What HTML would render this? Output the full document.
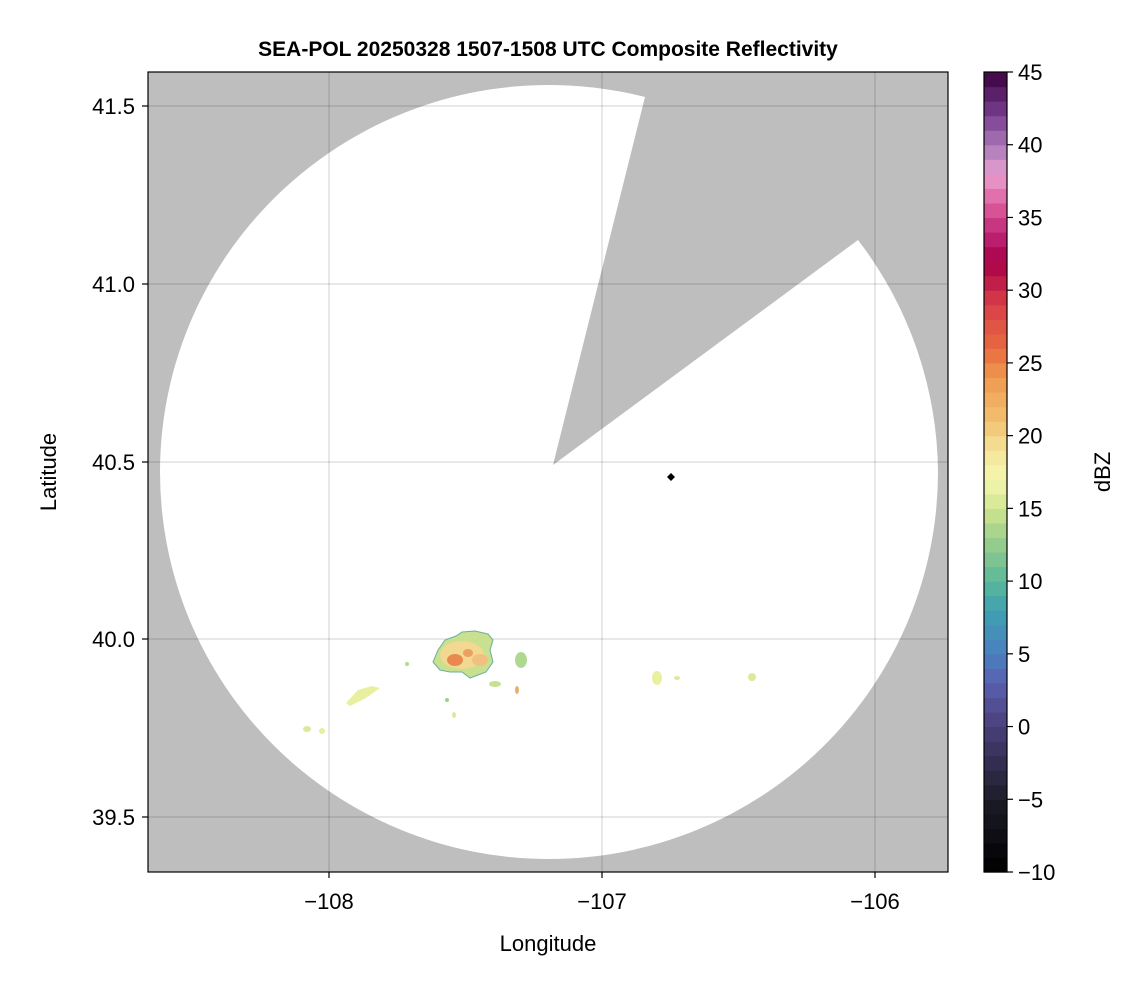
<!DOCTYPE html>
<html><head><meta charset="utf-8"><style>
body{margin:0;background:#fff;}
svg{display:block;font-family:"Liberation Sans",sans-serif;}
</style></head><body>
<svg id="s" width="1146" height="990" viewBox="0 0 1146 990" xmlns="http://www.w3.org/2000/svg">
<defs><clipPath id="pc"><rect x="148" y="72" width="800" height="800"/></clipPath></defs>
<rect x="148" y="72" width="800" height="800" fill="#bebebe"/>
<g clip-path="url(#pc)">
<path d="M553,465 L645,97 A389,387 0 0 0 160,472 A389,387 0 0 0 938,472 A389,387 0 0 0 858,240 Z" fill="#fff"/>
<g stroke="#000" stroke-opacity="0.12" stroke-width="1.5">
<line x1="329" y1="72" x2="329" y2="872"/><line x1="602" y1="72" x2="602" y2="872"/><line x1="875" y1="72" x2="875" y2="872"/>
<line x1="148" y1="106" x2="948" y2="106"/><line x1="148" y1="284" x2="948" y2="284"/><line x1="148" y1="462" x2="948" y2="462"/><line x1="148" y1="639" x2="948" y2="639"/><line x1="148" y1="817" x2="948" y2="817"/>
</g>
<g>
<path d="M438,650 L445,640 L456,636 L462,632 L475,631 L488,634 L493,640 L490,650 L493,662 L486,672 L470,678 L462,672 L450,672 L440,670 L433,662 Z" fill="#c8e090" stroke="#6ab09a" stroke-width="1"/>
<ellipse cx="462" cy="655" rx="22" ry="14" fill="#f2d890"/>
<ellipse cx="455" cy="660" rx="8" ry="6" fill="#e88a50"/>
<ellipse cx="468" cy="653" rx="5" ry="4" fill="#eaa060"/>
<ellipse cx="480" cy="660" rx="8" ry="6" fill="#f0c080"/>
<ellipse cx="521" cy="660" rx="6" ry="8" fill="#b0d890"/>
<ellipse cx="495" cy="684" rx="6" ry="3" fill="#c8e090"/>
<path d="M346,703 L358,690 L372,686 L380,688 L366,698 L350,706 Z" fill="#e8f0a0"/>
<ellipse cx="307" cy="729" rx="4" ry="3" fill="#dfe898"/>
<ellipse cx="322" cy="731" rx="3" ry="3" fill="#e8f0a0"/>
<ellipse cx="657" cy="678" rx="5" ry="7" fill="#eaf0a0"/>
<ellipse cx="677" cy="678" rx="3" ry="2" fill="#e0e898"/>
<ellipse cx="752" cy="677" rx="4" ry="4" fill="#dfe898"/>
<ellipse cx="517" cy="690" rx="2" ry="4" fill="#e8b070"/>
<ellipse cx="447" cy="700" rx="2" ry="2" fill="#9fd08a"/>
<ellipse cx="454" cy="715" rx="2" ry="3" fill="#dfe898"/>
<ellipse cx="407" cy="664" rx="2" ry="2" fill="#b8d890"/>
</g>
<path d="M671,473 L675,477 L671,481 L667,477 Z" fill="#000"/>
</g>
<rect x="148" y="72" width="800" height="800" fill="none" stroke="#000" stroke-width="1.2"/>
<g stroke="#000" stroke-width="1.2">
<line x1="329" y1="872" x2="329" y2="878"/><line x1="602" y1="872" x2="602" y2="878"/><line x1="875" y1="872" x2="875" y2="878"/>
<line x1="142" y1="106" x2="148" y2="106"/><line x1="142" y1="284" x2="148" y2="284"/><line x1="142" y1="462" x2="148" y2="462"/><line x1="142" y1="639" x2="148" y2="639"/><line x1="142" y1="817" x2="148" y2="817"/>
</g>
<g font-size="22" fill="#000" text-anchor="middle">
<text x="329" y="909">−108</text><text x="602" y="909">−107</text><text x="875" y="909">−106</text>
</g>
<g font-size="22" fill="#000" text-anchor="end">
<text x="135" y="114">41.5</text><text x="135" y="292">41.0</text><text x="135" y="470">40.5</text><text x="135" y="647">40.0</text><text x="135" y="825">39.5</text>
</g>
<text x="548" y="951" font-size="22" text-anchor="middle">Longitude</text>
<text transform="translate(56,472) rotate(-90)" font-size="22" text-anchor="middle">Latitude</text>
<text x="548" y="56" font-size="21" font-weight="bold" text-anchor="middle">SEA-POL 20250328 1507-1508 UTC Composite Reflectivity</text>
<g id="cb"></g>
<rect x="984" y="72" width="23" height="800" fill="none" stroke="#000" stroke-width="1.2"/>
<g id="cbt" font-size="22"></g>
<text transform="translate(1110,472) rotate(-90)" font-size="22" text-anchor="middle">dBZ</text>
</svg>
<script>
var st=[[-10,'000000'],[-5,'1c1c28'],[0,'4a3f7a'],[3,'5a5fb0'],[5,'4a80c0'],[8,'3fa0b0'],[10,'5ab89a'],[13,'9fd08a'],[15,'d0e590'],[17,'f5f8b0'],[19,'f5e49a'],[21,'f2c070'],[24,'f09a50'],[26,'e86a40'],[29,'d84048'],[32,'a80048'],[34,'c02878'],[36,'e060a0'],[38,'e8a0d0'],[40,'a878b8'],[42,'7a4090'],[45,'3a0040']];
function col(v){for(var i=0;i<st.length-1;i++){if(v<=st[i+1][0]){var t=(v-st[i][0])/(st[i+1][0]-st[i][0]);var a=st[i][1],b=st[i+1][1],o='#';for(var k=0;k<3;k++){var x=parseInt(a.substr(2*k,2),16),y=parseInt(b.substr(2*k,2),16);var c=Math.round(x+(y-x)*t).toString(16);o+=c.length<2?'0'+c:c;}return o;}}return '#'+st[st.length-1][1];}
var ns='http://www.w3.org/2000/svg',g=document.getElementById('cb');
var ppu=800/55;
for(var v=-10;v<45;v++){var r=document.createElementNS(ns,'rect');var y=872-(v+1-(-10))*ppu;r.setAttribute('x',984);r.setAttribute('y',y);r.setAttribute('width',23);r.setAttribute('height',ppu+0.6);r.setAttribute('fill',col(v+0.5));g.appendChild(r);}
var t=document.getElementById('cbt');
for(var v=-10;v<=45;v+=5){var y=872-(v+10)*ppu;var l=document.createElementNS(ns,'line');l.setAttribute('x1',1007);l.setAttribute('x2',1013);l.setAttribute('y1',y);l.setAttribute('y2',y);l.setAttribute('stroke','#000');l.setAttribute('stroke-width','1.2');t.appendChild(l);var tx=document.createElementNS(ns,'text');tx.setAttribute('x',1018);tx.setAttribute('y',y+8);tx.textContent=(v<0?'−'+(-v):v);t.appendChild(tx);}
</script>
</body></html>
